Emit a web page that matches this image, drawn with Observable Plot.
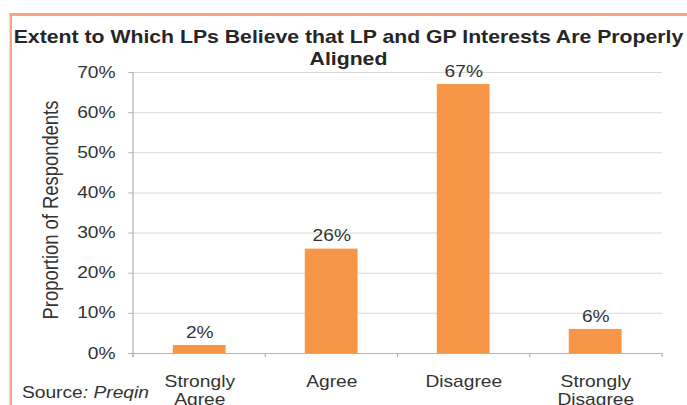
<!DOCTYPE html>
<html>
<head>
<meta charset="utf-8">
<script src="https://cdn.jsdelivr.net/npm/d3@7"></script>
<script src="https://cdn.jsdelivr.net/npm/@observablehq/plot@0.6"></script>
<style>
  html, body { margin: 0; padding: 0; background: #fff; }
  body { width: 687px; height: 405px; overflow: hidden; }
  /* The figure is laid out in a narrower box and widened horizontally. */
  #figure {
    position: relative;
    width: 572.5px;
    height: 405px;
    transform: scaleX(1.2);
    transform-origin: 0 0;
    font-family: "Liberation Sans", Arial, sans-serif;
    color: #333;
  }
  #frame {
    position: absolute;
    left: 7.5px;
    top: 13px;
    width: 700px;
    height: 500px;
    border-left: 2.5px solid #f8a47c;
    border-top: 3px solid #f8a47c;
    box-sizing: border-box;
  }
  #title {
    position: absolute;
    left: 0;
    width: 580.8px;
    top: 26px;
    text-align: center;
    font-weight: bold;
    font-size: 17.7px;
    line-height: 22px;
    white-space: nowrap;
    color: #262626;
  }
  #chart { position: absolute; left: 0; top: 0; }
  #source {
    position: absolute;
    left: 18.3px;
    top: 384px;
    font-size: 16px;
    line-height: 18px;
    white-space: nowrap;
    color: #333;
  }
</style>
</head>
<body>
<div id="figure">
  <div id="frame"></div>
  <div id="chart"></div>
  <div id="title">Extent to Which LPs Believe that LP and GP Interests Are Properly<br>Aligned</div>
  <div id="source">Source<i>: Preqin</i></div>
</div>
<script>
// Survey answers and the share of respondents giving each one (%)
const categories = ["Strongly Agree", "Agree", "Disagree", "Strongly Disagree"];
const categoryLabels = ["Strongly\nAgree", "Agree", "Disagree", "Strongly\nDisagree"];
const shares = [2, 26, 67, 6];
const shareLabels = ["2%", "26%", "67%", "6%"];
const yTicks = [0, 10, 20, 30, 40, 50, 60, 70];
const yTickLabels = ["0%", "10%", "20%", "30%", "40%", "50%", "60%", "70%"];
const yTitle = "Proportion of Respondents";

const rows = categories.map((c, i) => ({
  category: c,
  label: categoryLabels[i],
  share: shares[i],
  text: shareLabels[i]
}));

const axisColor = "#b3b3b3";

// Axis line on the left and small separator ticks between the answer bands
function bandAxis(index, scales, values, dimensions) {
  const {width, marginLeft, marginRight} = dimensions;
  const step = (width - marginLeft - marginRight) / categories.length;
  const bounds = d3.range(categories.length + 1).map(i => marginLeft + i * step);
  const y0 = scales.y(0);
  const yTop = scales.y(d3.max(yTicks));
  const g = d3.create("svg:g")
    .attr("stroke", axisColor)
    .attr("stroke-width", 1)
    .attr("fill", "none");
  g.append("line")
    .attr("x1", marginLeft).attr("x2", marginLeft)
    .attr("y1", yTop).attr("y2", y0 + 4);
  g.selectAll(".sep").data(bounds).join("line")
    .attr("class", "sep")
    .attr("x1", d => d).attr("x2", d => d)
    .attr("y1", y0).attr("y2", y0 + 4);
  return g.node();
}

const chart = Plot.plot({
  width: 572.5,
  height: 405,
  marginLeft: 110.8,
  marginRight: 20.8,
  marginTop: 72,
  marginBottom: 52,
  style: {
    fontFamily: "'Liberation Sans', Arial, sans-serif",
    fontSize: "16px",
    color: "#333",
    background: "transparent",
    overflow: "visible"
  },
  x: {domain: categories, paddingInner: 0.6, paddingOuter: 0.3, axis: null},
  y: {domain: [0, 70], axis: null},
  marks: [
    Plot.gridY(yTicks, {stroke: "#d9d9d9", strokeOpacity: 1}),
    Plot.ruleY([0], {stroke: axisColor}),
    bandAxis,
    Plot.axisY(yTicks, {
      tickSize: 4,
      tickPadding: 11,
      tickFormat: (d) => yTickLabels[yTicks.indexOf(d)],
      stroke: axisColor,
      fill: "#333",
      fontSize: 16,
      label: null
    }),
    Plot.barY(rows, {x: "category", y: "share", fill: "#f79646"}),
    Plot.text(rows, {
      x: "category",
      y: "share",
      text: "text",
      dy: -13,
      fontSize: 16,
      fill: "#333"
    }),
    Plot.text(rows, {
      x: "category",
      text: "label",
      frameAnchor: "bottom",
      lineAnchor: "top",
      lineHeight: 1.1,
      dy: 21,
      fontSize: 16,
      fill: "#333"
    }),
    Plot.text([yTitle], {
      frameAnchor: "left",
      textAnchor: "middle",
      lineAnchor: "middle",
      rotate: -90,
      dx: -69,
      dy: -3,
      fontSize: 18.4,
      fill: "#333"
    })
  ]
});

document.getElementById("chart").appendChild(chart);
</script>
</body>
</html>
